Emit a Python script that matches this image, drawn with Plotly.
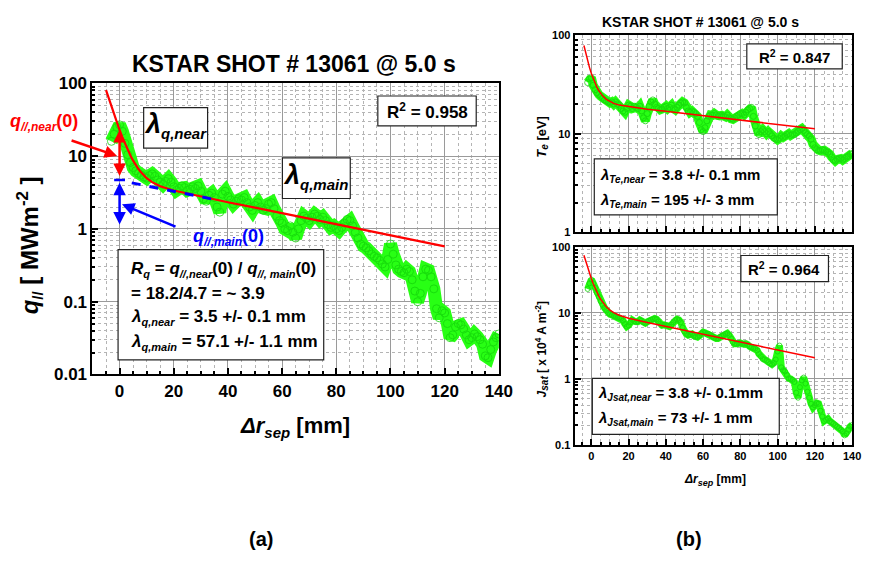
import math
import plotly.graph_objects as go

W, H = 871, 571
FONT = "Liberation Sans, Arial, sans-serif"

# ---------------- data ----------------
# (a) parallel heat flux q_// [MW m^-2] vs distance from separatrix [mm]
Q_X = list(range(-3, 141))
Q_VAL = [16, 20, 25, 27, 22, 15, 10.5, 8.2, 7.0, 6.3, 5.8, 5.5, 5.2,
         5.0, 5.4, 5.7, 5.3, 4.7, 4.4, 4.1, 4.5, 4.9, 4.4,
         3.8, 3.4, 3.6, 3.9, 3.7, 3.4, 3.5, 3.8, 3.6, 3.9,
         3.3, 2.6, 2.4, 2.9, 3.1, 2.7, 2.0, 1.7, 3.0, 3.3,
         2.8, 2.5, 2.2, 2.4, 2.6, 2.5, 2.7, 2.3, 2.0, 1.8,
         2.1, 2.3, 2.0, 1.8, 1.9, 2.2, 2.3, 1.9, 1.5, 1.3,
         1.2, 1.0, 0.95, 1.1, 0.9, 0.75, 1.0, 1.3, 1.5, 1.4,
         1.3, 1.45, 1.6, 1.5, 1.35, 1.45, 1.3, 1.15, 1.05, 1.1,
         1.0, 0.95, 1.05, 1.2, 1.35, 1.3, 1.1, 0.9, 0.75, 0.62,
         0.58, 0.55, 0.5, 0.45, 0.42, 0.40, 0.37, 0.33, 0.30, 0.38,
         0.62, 0.45, 0.32, 0.28, 0.26, 0.25, 0.28, 0.26, 0.2, 0.14,
         0.1, 0.13, 0.22, 0.28, 0.27, 0.22, 0.15, 0.08, 0.06, 0.075,
         0.07, 0.05, 0.032, 0.035, 0.045, 0.05, 0.048, 0.042, 0.035, 0.03,
         0.032, 0.036, 0.033, 0.03, 0.026, 0.018, 0.017, 0.022, 0.028, 0.032,
         0.036]
# two-exponential fit
QFIT_X = [-5, -4, -3, -2, -1, 0, 1, 2, 3, 4, 5, 6, 7, 8, 10, 12, 15, 20,
          30, 40, 50, 60, 70, 80, 90, 100, 110, 120]
QFIT_Y = [81.1, 62.1, 47.9, 37.1, 29.0, 22.9, 18.3, 14.8, 12.2, 10.2, 8.67,
          7.51, 6.62, 5.94, 4.99, 4.40, 3.86, 3.37, 2.78, 2.33, 1.96, 1.64,
          1.38, 1.16, 0.972, 0.816, 0.685, 0.575]
# main-SOL component
QMAIN_X = [4.5, 37]
QMAIN_Y = [4.3, 2.45]
Q_NEAR0 = 18.2
Q_MAIN0 = 4.7
Q_ARROW_LOW = 1.1

# (b) electron temperature T_e [eV]
TE_X = list(range(-2, 141))
TE_VAL = [33, 36, 37, 31, 28, 26, 25, 24, 23, 22, 21.5, 21,
          20.5, 21, 20, 21, 20, 19.5, 18, 17, 16.5, 18,
          19.5, 19, 18, 19, 18.5, 18, 19, 17, 14.5, 13.5,
          16, 19, 21, 22, 20, 18.5, 18, 17.5, 17.8, 18.5,
          19, 18, 18.5, 19.5, 18, 17.5, 18.5, 19.5, 20.5, 21,
          20.5, 18.5, 17, 16.5, 17, 16.5, 16, 15, 13, 11,
          10.5, 11.5, 13.5, 15, 15.5, 15.4, 16, 15.5, 15, 15.2,
          15.4, 15, 14.8, 15.5, 14.5, 14.2, 14, 14.5, 15, 15.5,
          16, 16, 15.5, 16.5, 17.5, 18, 18.5, 15, 12, 10.5,
          9.8, 10.5, 11, 10.5, 10, 10.5, 10, 9.5, 9, 8.8,
          8.7, 9, 9.5, 9.2, 9.4, 9.8, 10, 9.6, 9.8, 9.8,
          10.2, 10.6, 11, 11.3, 10.8, 10.2, 9.8, 9.5, 8.8, 7.8,
          7.2, 6.9, 6.8, 6.7, 6.9, 6.8, 6.6, 6.5, 6.2, 5.8,
          5.4, 5.3, 5.5, 5.6, 5.6, 5.4, 5.6, 5.8, 5.9, 6.2, 6.3]
TEFIT_X = [-4, -3, -2, -1, 0, 1, 2, 3, 4, 5, 6, 8, 10, 12, 15, 20,
           30, 40, 50, 60, 70, 80, 90, 100, 110, 120]
TEFIT_Y = [78.4, 65.0, 54.7, 46.8, 40.7, 36.0, 32.3, 29.5, 27.3, 25.6, 24.2,
           22.3, 21.1, 20.3, 19.5, 18.8, 17.75, 16.86, 16.0, 15.2, 14.46,
           13.7, 13.05, 12.4, 11.8, 11.2]

# (b) ion saturation current density J_sat [x10^4 A m^-2]
JS_X = list(range(-2, 141))
JS_VAL = [23, 28, 32, 28, 24, 20, 17.5, 15, 13.2, 12, 11, 10,
          9.5, 9.3, 9.0, 8.8, 8.5, 8.5, 8.2, 7.6, 6.8, 6.2,
          6.5, 7.2, 7.8, 7.5, 7.2, 7.4, 7.8, 7.6, 7.2, 7.0,
          7.3, 7.6, 7.8, 8.0, 8.2, 8.0, 7.4, 6.8, 6.5, 6.6,
          6.5, 6.4, 6.2, 6.6, 7.2, 7.8, 8.0, 7.8, 7.2, 6.0,
          5.2, 4.8, 4.6, 4.7, 4.8, 4.5, 4.3, 4.3, 4.5, 4.9,
          5.1, 5.0, 4.8, 4.8, 4.6, 4.4, 4.2, 4.1, 4.1, 4.3,
          4.5, 4.6, 4.8, 4.9, 4.6, 4.1, 3.6, 3.4, 3.4, 3.5,
          3.5, 3.4, 3.4, 3.5, 3.3, 3.1, 3.0, 2.9, 2.9, 2.7,
          2.4, 2.2, 2.0, 1.97, 1.9, 1.8, 1.7, 1.66, 1.75, 1.97,
          2.6, 3.2, 1.5, 1.35, 1.3, 1.15, 1.02, 1.0, 0.97, 0.9,
          0.62, 0.52, 0.75, 0.95, 1.05, 0.85, 0.64, 0.52, 0.42, 0.37,
          0.4, 0.43, 0.42, 0.33, 0.27, 0.23, 0.24, 0.25, 0.23, 0.22,
          0.21, 0.2, 0.19, 0.18, 0.17, 0.16, 0.14, 0.15, 0.17, 0.19, 0.2]
JSFIT_X = [-4, -3, -2, -1, 0, 1, 2, 3, 4, 5, 6, 8, 10, 12, 15, 20,
           30, 40, 50, 60, 70, 80, 90, 100, 110, 120]
JSFIT_Y = [74.4, 59.7, 48.3, 39.6, 32.8, 27.6, 23.5, 20.4, 17.9, 16.0, 14.5,
           12.35, 11.0, 10.1, 9.21, 8.32, 7.16, 6.24, 5.44, 4.75, 4.14,
           3.61, 3.15, 2.74, 2.39, 2.09]

X_TICKS = [0, 20, 40, 60, 80, 100, 120, 140]
Y_TICKS_A = [0.01, 0.1, 1, 10, 100]
Y_TICKS_TE = [1, 10, 100]
Y_TICKS_JS = [0.1, 1, 10, 100]


def tick_text(vals):
    return [("%g" % v) for v in vals]


def minor_logs(lo, hi):
    out = []
    for e in range(lo, hi):
        for m in range(2, 10):
            out.append(m * 10 ** e)
    return out


def px(x):
    return x / W


def py(y):
    return 1 - y / H


GREEN = "rgb(40,255,20)"
GREEN_M = "rgb(20,215,10)"
RED = "rgb(255,0,0)"
BLUE = "rgb(0,0,255)"

fig = go.Figure()


def data_band(x, y, xa, ya, width, msize):
    fig.add_trace(go.Scatter(x=x, y=y, xaxis=xa, yaxis=ya, mode="lines",
                             line=dict(color=GREEN, width=width),
                             hoverinfo="skip", showlegend=False))
    fig.add_trace(go.Scatter(x=x, y=y, xaxis=xa, yaxis=ya, mode="markers",
                             marker=dict(symbol="circle-open", size=msize,
                                         color=GREEN_M, line=dict(width=1)),
                             opacity=0.8, hoverinfo="skip", showlegend=False))


def fit_line(x, y, xa, ya, width):
    fig.add_trace(go.Scatter(x=x, y=y, xaxis=xa, yaxis=ya, mode="lines",
                             line=dict(color=RED, width=width),
                             hoverinfo="skip", showlegend=False))


# panel (a)
data_band(Q_X, Q_VAL, "x", "y", 13, 8)
fit_line(QFIT_X, QFIT_Y, "x", "y", 2.2)
fig.add_trace(go.Scatter(x=QMAIN_X, y=QMAIN_Y, xaxis="x", yaxis="y", mode="lines",
                         line=dict(color=BLUE, width=3, dash="dash"),
                         hoverinfo="skip", showlegend=False))
# cap of the q_main(0) marker
fig.add_trace(go.Scatter(x=[-2, 2], y=[Q_MAIN0, Q_MAIN0], xaxis="x", yaxis="y",
                         mode="lines", line=dict(color=BLUE, width=2.5),
                         hoverinfo="skip", showlegend=False))

# panel (b) top / bottom
data_band(TE_X, TE_VAL, "x2", "y2", 9, 6)
fit_line(TEFIT_X, TEFIT_Y, "x2", "y2", 1.5)
data_band(JS_X, JS_VAL, "x3", "y3", 7, 5)
fit_line(JSFIT_X, JSFIT_Y, "x3", "y3", 1.5)

GRID = "#9a9a9a"
MINOR_GRID = "#b4b4b4"


def xaxis(dom, rng, anchor, size, labels=True):
    return dict(domain=dom, range=rng, anchor=anchor,
                tickmode="array", tickvals=X_TICKS, ticktext=tick_text(X_TICKS),
                showticklabels=labels,
                tickfont=dict(family=FONT, size=size, color="black", weight="bold"),
                ticks="inside", ticklen=6, tickwidth=1.5, tickcolor="black",
                showline=True, linecolor="black", linewidth=2, mirror=True,
                showgrid=True, gridcolor=GRID, gridwidth=1, zeroline=False,
                minor=dict(tickmode="linear", tick0=0, dtick=5, ticks="inside",
                           ticklen=3, tickcolor="black", showgrid=True,
                           gridcolor=MINOR_GRID, griddash="dot", gridwidth=1))


def yaxis(dom, lo, hi, vals, anchor, size):
    return dict(domain=dom, type="log", range=[lo, hi], anchor=anchor,
                tickmode="array", tickvals=vals, ticktext=tick_text(vals),
                tickfont=dict(family=FONT, size=size, color="black", weight="bold"),
                ticks="inside", ticklen=6, tickwidth=1.5, tickcolor="black",
                showline=True, linecolor="black", linewidth=2, mirror=True,
                showgrid=True, gridcolor=GRID, gridwidth=1, zeroline=False,
                minor=dict(tickmode="array", tickvals=minor_logs(lo, hi),
                           ticks="inside", ticklen=3, tickcolor="black",
                           showgrid=True, gridcolor=MINOR_GRID, griddash="dot",
                           gridwidth=1))


fig.update_layout(
    width=W, height=H, margin=dict(l=0, r=0, t=0, b=0),
    paper_bgcolor="white", plot_bgcolor="white", showlegend=False,
    xaxis=xaxis([px(94), px(507)], [-10, 140], "y", 17),
    yaxis=yaxis([py(378), py(77)], -2, 2, Y_TICKS_A, "x", 17),
    xaxis2=xaxis([px(584), px(866)], [-9, 140], "y2", 11, labels=False),
    yaxis2=yaxis([py(231), py(27)], 0, 2, Y_TICKS_TE, "x2", 11),
    xaxis3=xaxis([px(584), px(866)], [-9, 140], "y3", 11),
    yaxis3=yaxis([py(451), py(246)], -1, 2, Y_TICKS_JS, "x3", 11),
)

shapes = []


def box(x0, y0, x1, y1):
    shapes.append(dict(type="rect", xref="paper", yref="paper",
                       x0=px(x0), x1=px(x1), y0=py(y1), y1=py(y0),
                       fillcolor="white", line=dict(color="#222", width=1.2),
                       layer="above"))


annots = []


def text(x, y, s, size, color="black", xanchor="center", angle=0):
    annots.append(dict(xref="paper", yref="paper", x=px(x), y=py(y), text=s,
                       showarrow=False, xanchor=xanchor, yanchor="middle",
                       textangle=angle,
                       font=dict(family=FONT, size=size, color=color)))


def sub(s, size):
    return "<sub><span style='font-size:%dpx'>%s</span></sub>" % (size, s)


LAM = "<i>λ</i>"

# ---- panel (a) text ----
text(299, 57, "<b>KSTAR SHOT # 13061 @ 5.0 s</b>", 23)
text(300, 432, "<b><i>Δr</i>" + sub("<i>sep</i>", 15) + " [mm]</b>", 22)
text(30, 245, "<b><i>q</i>" + sub("//", 15) + " [ MWm<sup>-2</sup> ]</b>", 24, angle=-90)

box(384, 90, 484, 121)
text(434, 106, "<b>R<sup>2</sup> = 0.958</b>", 17)

box(146, 102, 211, 144)
text(178, 121, "<b>" + LAM + sub("<i>q,near</i>", 15) + "</b>", 27)
box(287, 154, 356, 196)
text(321, 173, "<b>" + LAM + sub("<i>q,main</i>", 15) + "</b>", 27)

box(120, 249, 329, 363)
text(131, 269, "<b><i>R</i>" + sub("<i>q</i>", 11) + " = <i>q</i>" + sub("<i>//,near</i>", 11)
     + "(0) / <i>q</i>" + sub("<i>//, main</i>", 11) + "(0)</b>", 17, xanchor="left")
text(131, 294, "<b>= %.1f/%.1f = ~ %.1f</b>" % (Q_NEAR0, Q_MAIN0, Q_NEAR0 / Q_MAIN0),
     17, xanchor="left")
text(131, 319, "<b>" + LAM + sub("<i>q,near</i>", 11) + " = 3.5 +/- 0.1 mm</b>", 17, xanchor="left")
text(131, 345, "<b>" + LAM + sub("<i>q,main</i>", 11) + " = 57.1 +/- 1.1 mm</b>", 17, xanchor="left")

text(8, 117, "<b><i>q</i>" + sub("<i>//,near</i>", 12) + "(0)</b>", 18, color=RED, xanchor="left")
text(194, 236, "<b><i>q</i>" + sub("<i>//,main</i>", 12) + "(0)</b>", 18, color=BLUE, xanchor="left")

# ---- panel (b) text ----
text(712, 13, "<b>KSTAR SHOT # 13061 @ 5.0 s</b>", 14)
text(551, 132, "<b><i>T</i>" + sub("<i>e</i>", 10) + " [eV]</b>", 13, angle=-90)
text(551, 352, "<b><i>J</i>" + sub("<i>sat</i>", 10) + " [ x 10<sup>4</sup> A m<sup>-2</sup>]</b>",
     12, angle=-90)
text(727, 487, "<b><i>Δr</i>" + sub("<i>sep</i>", 9) + " [mm]</b>", 12)

box(759, 36, 856, 62)
text(807, 49, "<b>R<sup>2</sup> = 0.847</b>", 15)
box(604, 155, 790, 213)
text(608, 172, "<b>" + LAM + sub("<i>Te,near</i>", 10) + " = 3.8 +/- 0.1 mm</b>", 15, xanchor="left")
text(608, 198, "<b>" + LAM + sub("<i>Te,main</i>", 10) + " = 195 +/- 3 mm</b>", 15, xanchor="left")

box(753, 255, 842, 282)
text(797, 268, "<b>R<sup>2</sup> = 0.964</b>", 15)
box(602, 382, 792, 440)
text(606, 398, "<b>" + LAM + sub("<i>Jsat,near</i>", 10) + " = 3.8 +/- 0.1mm</b>", 15, xanchor="left")
text(606, 424, "<b>" + LAM + sub("<i>Jsat,main</i>", 10) + " = 73 +/- 1 mm</b>", 15, xanchor="left")

text(265, 548, "<b>(a)</b>", 20)
text(700, 548, "<b>(b)</b>", 20)

# ---- arrows in panel (a) ----
q_total0 = Q_NEAR0 + Q_MAIN0
annots.append(dict(xref="x", yref="y", axref="x", ayref="y",
                   x=0, y=math.log10(q_total0), ax=0, ay=math.log10(Q_MAIN0 * 1.08),
                   text="", showarrow=True, arrowside="end+start", arrowhead=2,
                   arrowsize=1, arrowwidth=2.5, arrowcolor=RED))
annots.append(dict(xref="x", yref="y", axref="x", ayref="y",
                   x=0, y=math.log10(Q_MAIN0 * 0.92), ax=0, ay=math.log10(Q_ARROW_LOW),
                   text="", showarrow=True, arrowside="end+start", arrowhead=2,
                   arrowsize=1, arrowwidth=2.5, arrowcolor=BLUE))
annots.append(dict(xref="paper", yref="paper", x=px(119), y=py(152), ax=-47, ay=-16,
                   text="", showarrow=True, arrowhead=2, arrowsize=1,
                   arrowwidth=2.5, arrowcolor=RED))
annots.append(dict(xref="paper", yref="paper", x=px(124), y=py(202), ax=55, ay=23,
                   text="", showarrow=True, arrowhead=2, arrowsize=1,
                   arrowwidth=2.5, arrowcolor=BLUE))

fig.update_layout(shapes=shapes, annotations=annots)
fig.write_html("out.html")
